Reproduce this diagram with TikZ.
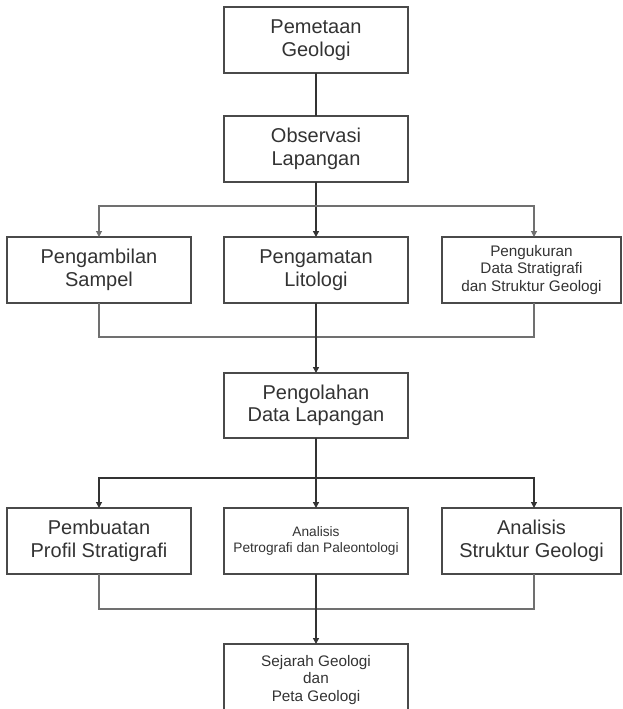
\documentclass[tikz,border=0pt]{standalone}
\usepackage{fontspec}
\setmainfont{Liberation Sans}
\usetikzlibrary{arrows.meta,calc}
\definecolor{boxline}{HTML}{4A4A4A}
\definecolor{txt}{HTML}{333333}
\definecolor{mainline}{HTML}{333333}
\definecolor{sideline}{HTML}{707070}
\tikzset{
  box/.style={draw=boxline, line width=1.2pt, rectangle, inner sep=0pt, outer sep=0pt,
    minimum width=184pt, minimum height=66pt, align=center, text=txt,
    font=\fontsize{20}{22.5}\selectfont},
  smalltext/.style={font=\fontsize{15.3}{17.2}\selectfont},
  tinytext/.style={font=\fontsize{13.7}{15.5}\selectfont},
  mainconn/.style={draw=mainline, line width=1.4pt},
  branchconn/.style={draw=mainline, line width=1.2pt},
  sideconn/.style={draw=sideline, line width=1.1pt},
  tip/.style={-{Triangle[length=6pt,width=6pt]}},
}
\begin{document}
\begin{tikzpicture}[x=1pt,y=-1pt]
\useasboundingbox (0,0) rectangle (622,709);
\clip (0,0) rectangle (622,709);
% boxes
\node[box] (pem) at (316,40) {Pemetaan\\Geologi};
\node[box] (obs) at (316,149) {Observasi\\Lapangan};
\node[box] (samp) at (99,270) {Pengambilan\\Sampel};
\node[box] (lit) at (316,270) {Pengamatan\\Litologi};
\node[box, minimum width=179pt, smalltext] (ukur) at (531.5,270) {Pengukuran\\Data Stratigrafi\\dan Struktur Geologi};
\node[box, minimum height=65pt] (olah) at (316,405.5) {Pengolahan\\Data Lapangan};
\node[box] (prof) at (99,541) {Pembuatan\\Profil Stratigrafi};
\node[box, tinytext] (petro) at (316,541) {Analisis\\Petrografi dan Paleontologi};
\node[box, minimum width=179pt] (struk) at (531.5,541) {Analisis\\Struktur Geologi};
\node[box, minimum height=72pt, smalltext] (sej) at (316,680) {Sejarah Geologi\\dan\\Peta Geologi};
% coordinates for branches
\coordinate (b1l) at (99,206);
\coordinate (b1r) at (534,206);
\coordinate (j1l) at (99,337);
\coordinate (j1r) at (534,337);
\coordinate (b2l) at (99,478);
\coordinate (b2r) at (534,478);
\coordinate (j2l) at (99,609);
\coordinate (j2r) at (534,609);
% connectors
\draw[mainconn] (pem.south) -- (obs.north);
\draw[mainconn, tip] (obs.south) -- (lit.north);
\draw[sideconn, tip] (b1r -| obs.south) -- (b1l) -- (samp.north);
\draw[sideconn, tip] (b1l -| obs.south) -- (b1r) -- (b1r |- ukur.north);
\draw[sideconn] (samp.south) -- (j1l) -- (j1r) -- (j1r |- ukur.south);
\draw[mainconn, tip] (lit.south) -- (olah.north);
\draw[mainconn, tip] (olah.south) -- (petro.north);
\draw[branchconn, tip] (b2r -| olah.south) -- (b2l) -- (prof.north);
\draw[branchconn, tip] (b2l -| olah.south) -- (b2r) -- (b2r |- struk.north);
\draw[sideconn] (prof.south) -- (j2l) -- (j2r) -- (j2r |- struk.south);
\draw[mainconn, tip] (petro.south) -- (sej.north);
\end{tikzpicture}
\end{document}
